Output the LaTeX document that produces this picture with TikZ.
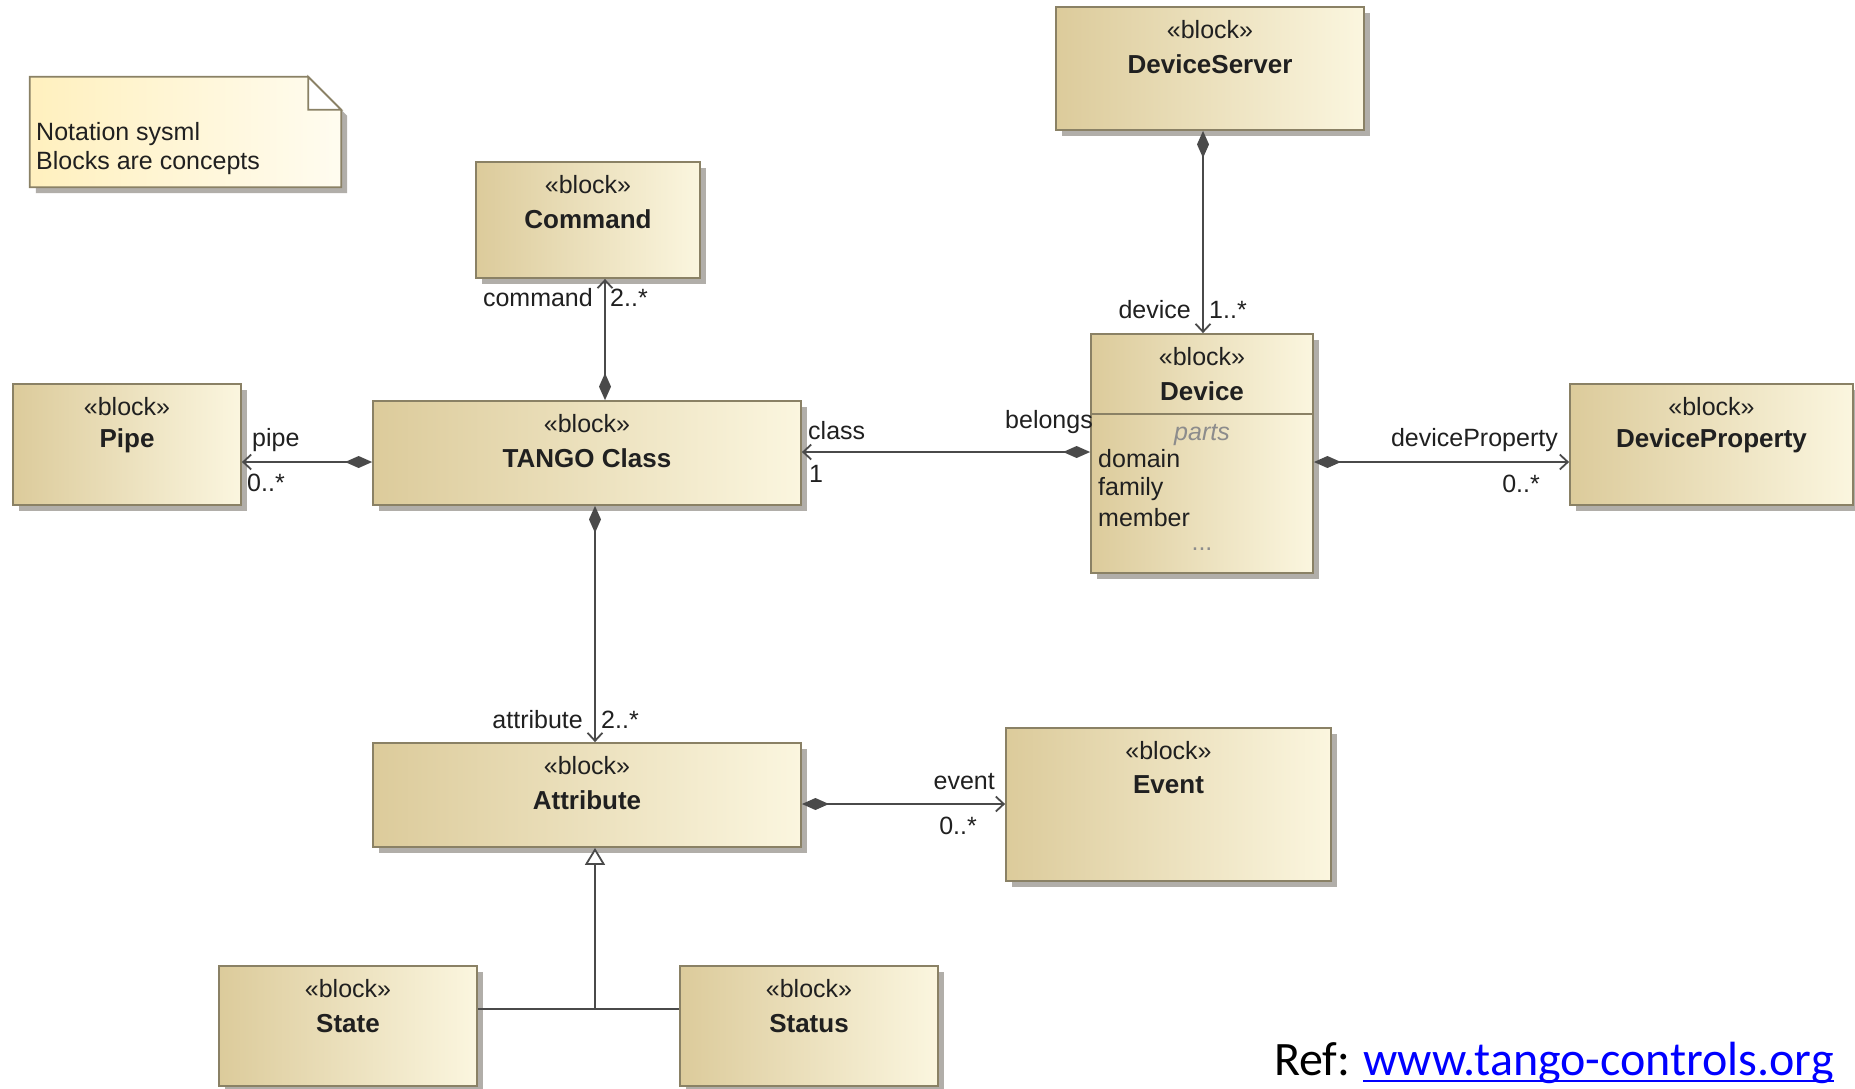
\documentclass[tikz,border=0pt]{standalone}
\usepackage{fontspec}
\setmainfont{Liberation Sans}
\newfontfamily\reffont{Carlito}
\usetikzlibrary{arrows.meta,shadows}
\definecolor{linec}{HTML}{4A4A4A}
\definecolor{boxline}{HTML}{8A8165}
\definecolor{boxl}{HTML}{DCCB9B}
\definecolor{boxr}{HTML}{FBF6DF}
\definecolor{notel}{HTML}{FFF0BE}
\definecolor{noter}{HTML}{FFFCF0}
\definecolor{shadowc}{HTML}{A9A6A0}
\definecolor{urlblue}{HTML}{0000FF}
\definecolor{txt}{HTML}{202020}
\definecolor{partsc}{HTML}{8C8C8C}
\newcommand{\fsz}{\fontsize{25}{30}\selectfont}
\newcommand{\nsz}{\fontsize{26}{31}\selectfont}
\newcommand{\umlblock}[6]{%
  \node[blockbox, minimum width=#4pt, minimum height=#5pt] (#1) at (#2,#3) {};
  \node[stereo] (#1-st) at ([yshift=-23pt]#1.north) {«block»};
  \node[bname] (#1-nm) at ([yshift=-58pt]#1.north) {#6};}
\begin{document}
\begin{tikzpicture}[x=1pt,y=-1pt,
  blockbox/.style={draw=boxline, line width=1.8pt, left color=boxl, right color=boxr, inner sep=0pt,
    drop shadow={shadow xshift=6pt, shadow yshift=-6pt, fill=shadowc, draw=none, opacity=0.9}},
  stereo/.style={font=\fsz, text=txt, inner sep=0pt},
  bname/.style={font=\nsz\bfseries, text=txt, inner sep=0pt},
  lbl/.style={font=\fsz, text=txt, inner sep=0pt},
  assoc/.style={draw=linec, line width=1.8pt, arrows={Diamond[length=27pt,width=12pt]-Straight Barb[length=8pt,width=15pt]}},
  gen/.style={draw=linec, line width=1.8pt, arrows={-Triangle[open,length=17pt,width=20pt,fill=white]}},
  plain/.style={draw=linec, line width=1.8pt}]
\fill[white] (0,0) rectangle (1855,1088);
\useasboundingbox (0,0) rectangle (1855,1088);

% note
\node[inner sep=0pt, minimum width=311pt, minimum height=110pt] (note) at (185.5,132) {};
\path[left color=notel, right color=noter, draw=boxline, line width=1.8pt,
  drop shadow={shadow xshift=6pt, shadow yshift=-6pt, fill=shadowc, draw=none, opacity=0.9}]
  (note.north west) -- ([xshift=-33pt]note.north east) -- ([yshift=-33pt]note.north east)
  -- (note.south east) -- (note.south west) -- cycle;
\draw[draw=boxline, line width=1.8pt, fill=white] ([xshift=-33pt]note.north east) -- ([xshift=-33pt,yshift=-33pt]note.north east) -- ([yshift=-33pt]note.north east) -- cycle;
\node[lbl, anchor=west] (note-l1) at (36,134) {Notation sysml};
\node[lbl, anchor=west] (note-l2) at (36,163) {Blocks are concepts};

% blocks
\umlblock{command}{588}{220}{224}{116}{Command}
\umlblock{devserver}{1210}{68.5}{308}{123}{DeviceServer}
\umlblock{device}{1202}{453.5}{222}{239}{Device}
\umlblock{devprop}{1711.5}{444.5}{283}{121}{DeviceProperty}
\umlblock{pipe}{127}{444.5}{228}{121}{Pipe}
\umlblock{tango}{587}{453}{428}{104}{TANGO Class}
\umlblock{attribute}{587}{795}{428}{104}{Attribute}
\umlblock{event}{1168.5}{804.5}{325}{153}{Event}
\umlblock{state}{348}{1026}{258}{120}{State}
\umlblock{status}{809}{1026}{258}{120}{Status}

% device compartment
\draw[draw=boxline, line width=1.6pt] (device.west |- 0,414) -- (device.east |- 0,414);
\node[lbl, text=partsc, font=\fsz\itshape] (d-parts) at (1202,435) {parts};
\node[lbl, anchor=west] (d-dom) at (1098,459) {domain};
\node[lbl, anchor=west] (d-fam) at (1098,489) {family};
\node[lbl, anchor=west] (d-mem) at (1098,518) {member};
\node[lbl, text=partsc] (d-dots) at (1202,549) {...};

% connector coordinates
\coordinate (vx1) at (605,0);
\coordinate (vx2) at (595,0);
\coordinate (vx3) at (1203,0);
\coordinate (hy1) at (0,462);
\coordinate (hy2) at (0,452);
\coordinate (hy3) at (0,804);
\coordinate (hy4) at (0,1009);
\coordinate (junc) at (595,1009);

\draw[assoc] (tango.north -| vx1) -- (command.south -| vx1);
\draw[assoc] (tango.west |- hy1) -- (pipe.east |- hy1);
\draw[assoc] (tango.south -| vx2) -- (attribute.north -| vx2);
\draw[assoc] (device.west |- hy2) -- (tango.east |- hy2);
\draw[assoc] (devserver.south -| vx3) -- (device.north -| vx3);
\draw[assoc] (device.east |- hy1) -- (devprop.west |- hy1);
\draw[assoc] (attribute.east |- hy3) -- (event.west |- hy3);
\draw[plain] (state.east |- hy4) -- (status.west |- hy4);
\draw[gen] (junc) -- (attribute.south -| vx2);

% labels
\node[lbl, anchor=east] (l-cmd) at (593,298) {command};
\node[lbl, anchor=west] (m-cmd) at (610,298) {2..*};
\node[lbl, anchor=west] (l-pipe) at (252,440) {pipe};
\node[lbl, anchor=west] (m-pipe) at (247,483) {0..*};
\node[lbl, anchor=west] (l-class) at (808,431) {class};
\node[lbl, anchor=west] (m-class) at (809,474) {1};
\node[lbl, anchor=east] (l-bel) at (1093,422) {belongs};
\node[lbl, anchor=east] (l-dev) at (1191,310) {device};
\node[lbl, anchor=west] (m-dev) at (1209,310) {1..*};
\node[lbl, anchor=east] (l-dp) at (1558,440) {deviceProperty};
\node[lbl, anchor=east] (m-dp) at (1540,484) {0..*};
\node[lbl, anchor=east] (l-att) at (583,720) {attribute};
\node[lbl, anchor=west] (m-att) at (601,720) {2..*};
\node[lbl, anchor=east] (l-ev) at (995,782) {event};
\node[lbl, anchor=east] (m-ev) at (977,826) {0..*};

% reference
\node[anchor=base west, inner sep=0pt, font=\reffont\fontsize{48}{57}\selectfont] (ref) at (1274,1075) {Ref:};
\node[anchor=base west, inner sep=0pt, font=\reffont\fontsize{48}{57}\selectfont, text=urlblue] (url) at (1363,1075) {www.tango-controls.org};
\draw[urlblue, line width=2pt] ([yshift=-6pt]url.base west) -- ([yshift=-6pt]url.base east);
\end{tikzpicture}
\end{document}
